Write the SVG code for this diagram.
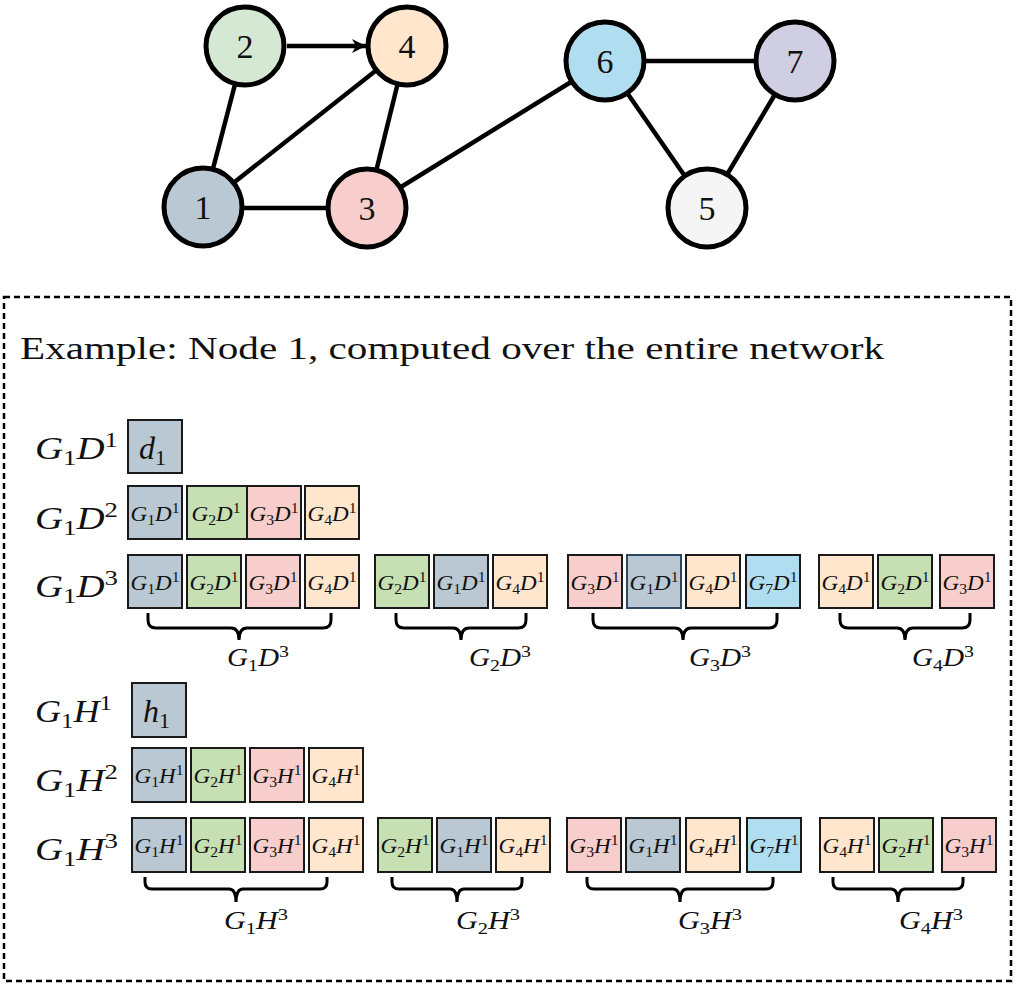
<svg xmlns="http://www.w3.org/2000/svg" width="1016" height="985" viewBox="0 0 1016 985">
<style>
.edge{stroke:#000;stroke-width:4.5;fill:none}
.nd{stroke:#000;stroke-width:5}
.num{font-family:"Liberation Serif",serif;font-size:34px;text-anchor:middle;fill:#111}
.box{stroke:#1a1a1a;stroke-width:2}
.c1{fill:#bac8d3}.c2{fill:#c6e0b4}.c3{fill:#f8cecc}.c4{fill:#ffe6cc}.c7{fill:#b1ddf0}
text{font-family:"Liberation Serif",serif;fill:#111}
.i{font-style:italic}
.rl{font-size:32px}
.rl .s{font-size:22px}
.bt{font-size:22px;text-anchor:middle}
.bt .s{font-size:15px}
.bb{font-size:25px;text-anchor:middle}
.bb .s{font-size:17px}
.brace{stroke:#000;stroke-width:3;fill:none}
.title{font-size:32px}
</style>
<defs>
<marker id="arr" markerUnits="userSpaceOnUse" markerWidth="16" markerHeight="14" refX="14" refY="7" orient="auto">
<path d="M0,0 L14,7 L0,14 L4,7 z" fill="#000"/>
</marker>
</defs>
<g id="connectors">
<line class="edge" x1="203" y1="207" x2="245" y2="46"/>
<line class="edge" x1="203" y1="207" x2="407" y2="46"/>
<line class="edge" x1="407" y1="46" x2="367" y2="208"/>
<line class="edge" x1="203" y1="208" x2="367" y2="208"/>
<line class="edge" x1="367" y1="208" x2="605" y2="61"/>
<line class="edge" x1="605" y1="61" x2="795" y2="61"/>
<line class="edge" x1="605" y1="61" x2="707" y2="208"/>
<line class="edge" x1="795" y1="61" x2="707" y2="208"/>
<line class="edge" x1="287" y1="46" x2="366" y2="46" marker-end="url(#arr)"/>
</g>
<g id="node1"><circle class="nd" cx="203" cy="207" r="39" fill="#bac8d3"/><text class="num" x="203" y="219">1</text></g>
<g id="node2"><circle class="nd" cx="245" cy="46" r="39" fill="#d5e8d4"/><text class="num" x="245" y="58">2</text></g>
<g id="node3"><circle class="nd" cx="367" cy="208" r="39" fill="#f8cecc"/><text class="num" x="367" y="220">3</text></g>
<g id="node4"><circle class="nd" cx="407" cy="46" r="39" fill="#ffe6cc"/><text class="num" x="407" y="58">4</text></g>
<g id="node5"><circle class="nd" cx="707" cy="208" r="39" fill="#f5f5f5"/><text class="num" x="707" y="220">5</text></g>
<g id="node6"><circle class="nd" cx="605" cy="61" r="39" fill="#b1ddf0"/><text class="num" x="605" y="73">6</text></g>
<g id="node7"><circle class="nd" cx="795" cy="61" r="39" fill="#d0cee2"/><text class="num" x="795" y="73">7</text></g>

<g id="example">
<rect x="4" y="297" width="1007" height="684" fill="none" stroke="#000" stroke-width="2.5" stroke-dasharray="6 4"/>
<text class="title" x="20" y="359" textLength="864" lengthAdjust="spacingAndGlyphs">Example: Node 1, computed over the entire network</text>

<!-- row labels -->
<text class="rl" x="35" y="459" textLength="83" lengthAdjust="spacingAndGlyphs"><tspan class="i">G</tspan><tspan class="s" dy="6">1</tspan><tspan class="i" dy="-6">D</tspan><tspan class="s" dy="-12">1</tspan></text>
<text class="rl" x="35" y="529" textLength="83" lengthAdjust="spacingAndGlyphs"><tspan class="i">G</tspan><tspan class="s" dy="6">1</tspan><tspan class="i" dy="-6">D</tspan><tspan class="s" dy="-12">2</tspan></text>
<text class="rl" x="35" y="597" textLength="83" lengthAdjust="spacingAndGlyphs"><tspan class="i">G</tspan><tspan class="s" dy="6">1</tspan><tspan class="i" dy="-6">D</tspan><tspan class="s" dy="-12">3</tspan></text>
<text class="rl" x="35" y="722" textLength="77" lengthAdjust="spacingAndGlyphs"><tspan class="i">G</tspan><tspan class="s" dy="6">1</tspan><tspan class="i" dy="-6">H</tspan><tspan class="s" dy="-12">1</tspan></text>
<text class="rl" x="35" y="791" textLength="83" lengthAdjust="spacingAndGlyphs"><tspan class="i">G</tspan><tspan class="s" dy="6">1</tspan><tspan class="i" dy="-6">H</tspan><tspan class="s" dy="-12">2</tspan></text>
<text class="rl" x="35" y="860" textLength="83" lengthAdjust="spacingAndGlyphs"><tspan class="i">G</tspan><tspan class="s" dy="6">1</tspan><tspan class="i" dy="-6">H</tspan><tspan class="s" dy="-12">3</tspan></text>

<!-- D row 1 -->
<g id="d1box"><rect class="box c1" x="128" y="420" width="54" height="53"/><text class="rl" x="139" y="459"><tspan class="i">d</tspan><tspan class="s" dy="6">1</tspan></text></g>

<!-- D row 2 -->
<g id="d2row">
<rect class="box c1" x="128" y="486" width="54" height="53"/>
<rect class="box c2" x="187" y="486" width="60" height="53"/>
<rect class="box c3" x="247" y="486" width="54" height="53"/>
<rect class="box c4" x="305" y="486" width="54" height="53"/>
<text class="bt" x="155" y="521" textLength="49" lengthAdjust="spacingAndGlyphs"><tspan class="i">G</tspan><tspan class="s" dy="4">1</tspan><tspan class="i" dy="-4">D</tspan><tspan class="s" dy="-8">1</tspan></text>
<text class="bt" x="216" y="521" textLength="49" lengthAdjust="spacingAndGlyphs"><tspan class="i">G</tspan><tspan class="s" dy="4">2</tspan><tspan class="i" dy="-4">D</tspan><tspan class="s" dy="-8">1</tspan></text>
<text class="bt" x="274" y="521" textLength="49" lengthAdjust="spacingAndGlyphs"><tspan class="i">G</tspan><tspan class="s" dy="4">3</tspan><tspan class="i" dy="-4">D</tspan><tspan class="s" dy="-8">1</tspan></text>
<text class="bt" x="332" y="521" textLength="49" lengthAdjust="spacingAndGlyphs"><tspan class="i">G</tspan><tspan class="s" dy="4">4</tspan><tspan class="i" dy="-4">D</tspan><tspan class="s" dy="-8">1</tspan></text>
</g>

<!-- D row 3 -->
<g id="d3row">
<rect class="box c1" x="128" y="555" width="54" height="53"/>
<rect class="box c2" x="187" y="555" width="54" height="53"/>
<rect class="box c3" x="246" y="555" width="54" height="53"/>
<rect class="box c4" x="305" y="555" width="54" height="53"/>
<rect class="box c2" x="375" y="555" width="54" height="53"/>
<rect class="box c1" x="434" y="555" width="54" height="53"/>
<rect class="box c4" x="493" y="555" width="54" height="53"/>
<rect class="box c3" x="568" y="555" width="54" height="53"/>
<rect class="box c1" x="627" y="555" width="54" height="53" style="stroke:#2d4862"/>
<rect class="box c4" x="686" y="555" width="54" height="53"/>
<rect class="box c7" x="746" y="555" width="54" height="53"/>
<rect class="box c4" x="819" y="555" width="54" height="53"/>
<rect class="box c2" x="878" y="555" width="54" height="53"/>
<rect class="box c3" x="940" y="555" width="54" height="53"/>
<text class="bt" x="155" y="590" textLength="49" lengthAdjust="spacingAndGlyphs"><tspan class="i">G</tspan><tspan class="s" dy="4">1</tspan><tspan class="i" dy="-4">D</tspan><tspan class="s" dy="-8">1</tspan></text>
<text class="bt" x="214" y="590" textLength="49" lengthAdjust="spacingAndGlyphs"><tspan class="i">G</tspan><tspan class="s" dy="4">2</tspan><tspan class="i" dy="-4">D</tspan><tspan class="s" dy="-8">1</tspan></text>
<text class="bt" x="273" y="590" textLength="49" lengthAdjust="spacingAndGlyphs"><tspan class="i">G</tspan><tspan class="s" dy="4">3</tspan><tspan class="i" dy="-4">D</tspan><tspan class="s" dy="-8">1</tspan></text>
<text class="bt" x="332" y="590" textLength="49" lengthAdjust="spacingAndGlyphs"><tspan class="i">G</tspan><tspan class="s" dy="4">4</tspan><tspan class="i" dy="-4">D</tspan><tspan class="s" dy="-8">1</tspan></text>
<text class="bt" x="402" y="590" textLength="49" lengthAdjust="spacingAndGlyphs"><tspan class="i">G</tspan><tspan class="s" dy="4">2</tspan><tspan class="i" dy="-4">D</tspan><tspan class="s" dy="-8">1</tspan></text>
<text class="bt" x="461" y="590" textLength="49" lengthAdjust="spacingAndGlyphs"><tspan class="i">G</tspan><tspan class="s" dy="4">1</tspan><tspan class="i" dy="-4">D</tspan><tspan class="s" dy="-8">1</tspan></text>
<text class="bt" x="520" y="590" textLength="49" lengthAdjust="spacingAndGlyphs"><tspan class="i">G</tspan><tspan class="s" dy="4">4</tspan><tspan class="i" dy="-4">D</tspan><tspan class="s" dy="-8">1</tspan></text>
<text class="bt" x="595" y="590" textLength="49" lengthAdjust="spacingAndGlyphs"><tspan class="i">G</tspan><tspan class="s" dy="4">3</tspan><tspan class="i" dy="-4">D</tspan><tspan class="s" dy="-8">1</tspan></text>
<text class="bt" x="654" y="590" textLength="49" lengthAdjust="spacingAndGlyphs"><tspan class="i">G</tspan><tspan class="s" dy="4">1</tspan><tspan class="i" dy="-4">D</tspan><tspan class="s" dy="-8">1</tspan></text>
<text class="bt" x="713" y="590" textLength="49" lengthAdjust="spacingAndGlyphs"><tspan class="i">G</tspan><tspan class="s" dy="4">4</tspan><tspan class="i" dy="-4">D</tspan><tspan class="s" dy="-8">1</tspan></text>
<text class="bt" x="773" y="590" textLength="49" lengthAdjust="spacingAndGlyphs"><tspan class="i">G</tspan><tspan class="s" dy="4">7</tspan><tspan class="i" dy="-4">D</tspan><tspan class="s" dy="-8">1</tspan></text>
<text class="bt" x="846" y="590" textLength="49" lengthAdjust="spacingAndGlyphs"><tspan class="i">G</tspan><tspan class="s" dy="4">4</tspan><tspan class="i" dy="-4">D</tspan><tspan class="s" dy="-8">1</tspan></text>
<text class="bt" x="905" y="590" textLength="49" lengthAdjust="spacingAndGlyphs"><tspan class="i">G</tspan><tspan class="s" dy="4">2</tspan><tspan class="i" dy="-4">D</tspan><tspan class="s" dy="-8">1</tspan></text>
<text class="bt" x="967" y="590" textLength="49" lengthAdjust="spacingAndGlyphs"><tspan class="i">G</tspan><tspan class="s" dy="4">3</tspan><tspan class="i" dy="-4">D</tspan><tspan class="s" dy="-8">1</tspan></text>
</g>

<!-- D braces -->
<g id="dbraces">
<path class="brace" d="M148,613 V620 Q148,628 156,628 H231 Q239,628 239,640 Q239,628 247,628 H323 Q331,628 331,620 V613"/>
<path class="brace" d="M396,613 V620 Q396,628 404,628 H453 Q461,628 461,640 Q461,628 469,628 H518 Q526,628 526,620 V613"/>
<path class="brace" d="M593,613 V620 Q593,628 601,628 H675 Q683,628 683,640 Q683,628 691,628 H769 Q777,628 777,620 V613"/>
<path class="brace" d="M840,613 V620 Q840,628 848,628 H897 Q905,628 905,640 Q905,628 913,628 H962 Q970,628 970,620 V613"/>
<text class="bb" x="258" y="666" textLength="62" lengthAdjust="spacingAndGlyphs"><tspan class="i">G</tspan><tspan class="s" dy="5">1</tspan><tspan class="i" dy="-5">D</tspan><tspan class="s" dy="-9">3</tspan></text>
<text class="bb" x="500" y="666" textLength="62" lengthAdjust="spacingAndGlyphs"><tspan class="i">G</tspan><tspan class="s" dy="5">2</tspan><tspan class="i" dy="-5">D</tspan><tspan class="s" dy="-9">3</tspan></text>
<text class="bb" x="720" y="666" textLength="62" lengthAdjust="spacingAndGlyphs"><tspan class="i">G</tspan><tspan class="s" dy="5">3</tspan><tspan class="i" dy="-5">D</tspan><tspan class="s" dy="-9">3</tspan></text>
<text class="bb" x="943" y="666" textLength="62" lengthAdjust="spacingAndGlyphs"><tspan class="i">G</tspan><tspan class="s" dy="5">4</tspan><tspan class="i" dy="-5">D</tspan><tspan class="s" dy="-9">3</tspan></text>
</g>

<!-- H row 1 -->
<g id="h1box"><rect class="box c1" x="132" y="683" width="54" height="54"/><text class="rl" x="143" y="722"><tspan class="i">h</tspan><tspan class="s" dy="6">1</tspan></text></g>

<!-- H row 2 -->
<g id="h2row">
<rect class="box c1" x="132" y="748" width="54" height="54"/>
<rect class="box c2" x="191" y="748" width="54" height="54"/>
<rect class="box c3" x="250" y="748" width="54" height="54"/>
<rect class="box c4" x="309" y="748" width="54" height="54"/>
<text class="bt" x="159" y="783" textLength="49" lengthAdjust="spacingAndGlyphs"><tspan class="i">G</tspan><tspan class="s" dy="4">1</tspan><tspan class="i" dy="-4">H</tspan><tspan class="s" dy="-8">1</tspan></text>
<text class="bt" x="218" y="783" textLength="49" lengthAdjust="spacingAndGlyphs"><tspan class="i">G</tspan><tspan class="s" dy="4">2</tspan><tspan class="i" dy="-4">H</tspan><tspan class="s" dy="-8">1</tspan></text>
<text class="bt" x="277" y="783" textLength="49" lengthAdjust="spacingAndGlyphs"><tspan class="i">G</tspan><tspan class="s" dy="4">3</tspan><tspan class="i" dy="-4">H</tspan><tspan class="s" dy="-8">1</tspan></text>
<text class="bt" x="336" y="783" textLength="49" lengthAdjust="spacingAndGlyphs"><tspan class="i">G</tspan><tspan class="s" dy="4">4</tspan><tspan class="i" dy="-4">H</tspan><tspan class="s" dy="-8">1</tspan></text>
</g>

<!-- H row 3 -->
<g id="h3row">
<rect class="box c1" x="132" y="818" width="54" height="54"/>
<rect class="box c2" x="191" y="818" width="54" height="54"/>
<rect class="box c3" x="250" y="818" width="54" height="54"/>
<rect class="box c4" x="309" y="818" width="54" height="54"/>
<rect class="box c2" x="378" y="818" width="54" height="54"/>
<rect class="box c1" x="437" y="818" width="54" height="54"/>
<rect class="box c4" x="496" y="818" width="54" height="54"/>
<rect class="box c3" x="567" y="818" width="54" height="54"/>
<rect class="box c1" x="626" y="818" width="54" height="54"/>
<rect class="box c4" x="686" y="818" width="54" height="54"/>
<rect class="box c7" x="747" y="818" width="54" height="54"/>
<rect class="box c4" x="820" y="818" width="54" height="54"/>
<rect class="box c2" x="879" y="818" width="54" height="54"/>
<rect class="box c3" x="942" y="818" width="54" height="54"/>
<text class="bt" x="159" y="853" textLength="49" lengthAdjust="spacingAndGlyphs"><tspan class="i">G</tspan><tspan class="s" dy="4">1</tspan><tspan class="i" dy="-4">H</tspan><tspan class="s" dy="-8">1</tspan></text>
<text class="bt" x="218" y="853" textLength="49" lengthAdjust="spacingAndGlyphs"><tspan class="i">G</tspan><tspan class="s" dy="4">2</tspan><tspan class="i" dy="-4">H</tspan><tspan class="s" dy="-8">1</tspan></text>
<text class="bt" x="277" y="853" textLength="49" lengthAdjust="spacingAndGlyphs"><tspan class="i">G</tspan><tspan class="s" dy="4">3</tspan><tspan class="i" dy="-4">H</tspan><tspan class="s" dy="-8">1</tspan></text>
<text class="bt" x="336" y="853" textLength="49" lengthAdjust="spacingAndGlyphs"><tspan class="i">G</tspan><tspan class="s" dy="4">4</tspan><tspan class="i" dy="-4">H</tspan><tspan class="s" dy="-8">1</tspan></text>
<text class="bt" x="405" y="853" textLength="49" lengthAdjust="spacingAndGlyphs"><tspan class="i">G</tspan><tspan class="s" dy="4">2</tspan><tspan class="i" dy="-4">H</tspan><tspan class="s" dy="-8">1</tspan></text>
<text class="bt" x="464" y="853" textLength="49" lengthAdjust="spacingAndGlyphs"><tspan class="i">G</tspan><tspan class="s" dy="4">1</tspan><tspan class="i" dy="-4">H</tspan><tspan class="s" dy="-8">1</tspan></text>
<text class="bt" x="523" y="853" textLength="49" lengthAdjust="spacingAndGlyphs"><tspan class="i">G</tspan><tspan class="s" dy="4">4</tspan><tspan class="i" dy="-4">H</tspan><tspan class="s" dy="-8">1</tspan></text>
<text class="bt" x="594" y="853" textLength="49" lengthAdjust="spacingAndGlyphs"><tspan class="i">G</tspan><tspan class="s" dy="4">3</tspan><tspan class="i" dy="-4">H</tspan><tspan class="s" dy="-8">1</tspan></text>
<text class="bt" x="653" y="853" textLength="49" lengthAdjust="spacingAndGlyphs"><tspan class="i">G</tspan><tspan class="s" dy="4">1</tspan><tspan class="i" dy="-4">H</tspan><tspan class="s" dy="-8">1</tspan></text>
<text class="bt" x="713" y="853" textLength="49" lengthAdjust="spacingAndGlyphs"><tspan class="i">G</tspan><tspan class="s" dy="4">4</tspan><tspan class="i" dy="-4">H</tspan><tspan class="s" dy="-8">1</tspan></text>
<text class="bt" x="774" y="853" textLength="49" lengthAdjust="spacingAndGlyphs"><tspan class="i">G</tspan><tspan class="s" dy="4">7</tspan><tspan class="i" dy="-4">H</tspan><tspan class="s" dy="-8">1</tspan></text>
<text class="bt" x="847" y="853" textLength="49" lengthAdjust="spacingAndGlyphs"><tspan class="i">G</tspan><tspan class="s" dy="4">4</tspan><tspan class="i" dy="-4">H</tspan><tspan class="s" dy="-8">1</tspan></text>
<text class="bt" x="906" y="853" textLength="49" lengthAdjust="spacingAndGlyphs"><tspan class="i">G</tspan><tspan class="s" dy="4">2</tspan><tspan class="i" dy="-4">H</tspan><tspan class="s" dy="-8">1</tspan></text>
<text class="bt" x="969" y="853" textLength="49" lengthAdjust="spacingAndGlyphs"><tspan class="i">G</tspan><tspan class="s" dy="4">3</tspan><tspan class="i" dy="-4">H</tspan><tspan class="s" dy="-8">1</tspan></text>
</g>

<!-- H braces -->
<g id="hbraces">
<path class="brace" d="M145,877 V882 Q145,889 152,889 H229 Q236,889 236,902 Q236,889 243,889 H320 Q327,889 327,882 V877"/>
<path class="brace" d="M392,877 V882 Q392,889 399,889 H450 Q457,889 457,902 Q457,889 464,889 H515 Q522,889 522,882 V877"/>
<path class="brace" d="M587,877 V882 Q587,889 594,889 H673 Q680,889 680,902 Q680,889 687,889 H766 Q773,889 773,882 V877"/>
<path class="brace" d="M833,877 V882 Q833,889 840,889 H891 Q898,889 898,902 Q898,889 905,889 H956 Q963,889 963,882 V877"/>
<text class="bb" x="256" y="929" textLength="64" lengthAdjust="spacingAndGlyphs"><tspan class="i">G</tspan><tspan class="s" dy="5">1</tspan><tspan class="i" dy="-5">H</tspan><tspan class="s" dy="-9">3</tspan></text>
<text class="bb" x="488" y="929" textLength="64" lengthAdjust="spacingAndGlyphs"><tspan class="i">G</tspan><tspan class="s" dy="5">2</tspan><tspan class="i" dy="-5">H</tspan><tspan class="s" dy="-9">3</tspan></text>
<text class="bb" x="710" y="929" textLength="64" lengthAdjust="spacingAndGlyphs"><tspan class="i">G</tspan><tspan class="s" dy="5">3</tspan><tspan class="i" dy="-5">H</tspan><tspan class="s" dy="-9">3</tspan></text>
<text class="bb" x="931" y="929" textLength="64" lengthAdjust="spacingAndGlyphs"><tspan class="i">G</tspan><tspan class="s" dy="5">4</tspan><tspan class="i" dy="-5">H</tspan><tspan class="s" dy="-9">3</tspan></text>
</g>
</g>
</svg>
